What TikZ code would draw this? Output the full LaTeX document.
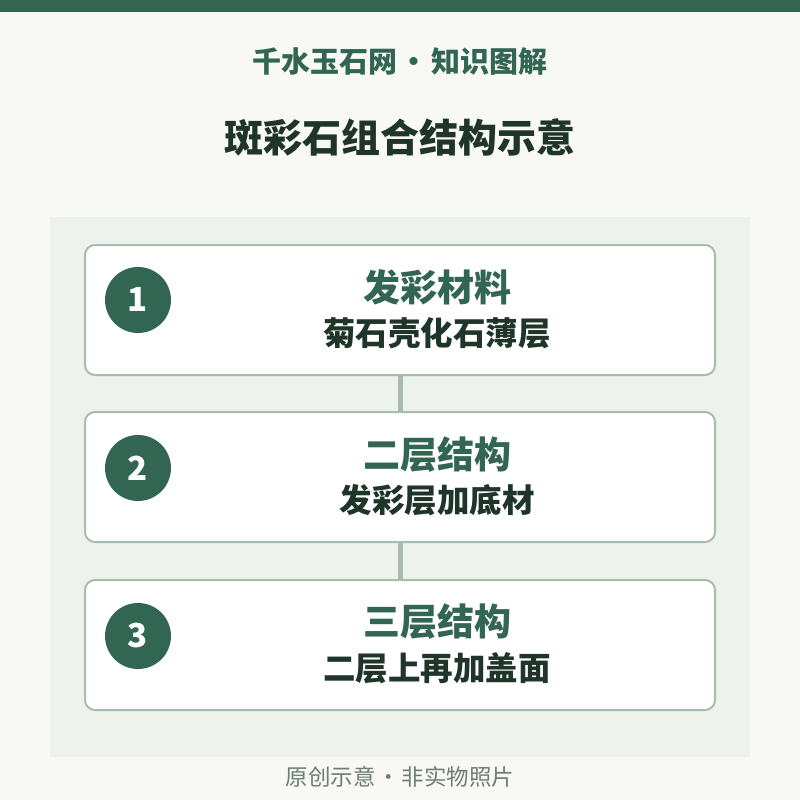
\documentclass[tikz,border=0pt]{standalone}
\usepackage{fontspec}
\setmainfont{Noto Sans CJK SC}
\definecolor{jadeDark}{HTML}{326652}
\definecolor{inkDark}{HTML}{1F3529}
\definecolor{pageBg}{HTML}{F8F8F5}
\definecolor{panelBg}{HTML}{EDF2EC}
\definecolor{edgeGray}{HTML}{A6BCAD}
\definecolor{noteGray}{HTML}{6E7D72}
\tikzset{
  layerBox/.style={rectangle, rounded corners=10pt, draw=edgeGray, line width=2pt, fill=white, minimum width=630pt, minimum height=130pt},
  stepDot/.style={circle, fill=jadeDark, minimum size=66pt, inner sep=0pt, text=white, font=\fontsize{33}{33}\selectfont\bfseries},
  headText/.style={text=jadeDark, font=\fontsize{37}{37}\selectfont\bfseries},
  subText/.style={text=inkDark, font=\fontsize{32.5}{32.5}\selectfont\bfseries},
  linkBar/.style={draw=edgeGray, line width=5pt}
}
\begin{document}
\begin{tikzpicture}[x=1pt,y=-1pt]
	\fill[pageBg] (0,0) rectangle (800,800);
	\useasboundingbox (0,0) rectangle (800,800);
	\fill[jadeDark] (0,0) rectangle (800,12);
	\node[text=jadeDark, font=\fontsize{29}{29}\selectfont\bfseries](siteTitle) at (400,62){千水玉石网\hspace{3pt}•\hspace{3pt}知识图解};
	\node[text=inkDark, font=\fontsize{39}{39}\selectfont\bfseries](mainTitle) at (400,137){斑彩石组合结构示意};
	\fill[panelBg] (50,217) rectangle (750,757);

	\node[layerBox](box1) at (400,310){};
	\node[layerBox](box2) at (400,477){};
	\node[layerBox](box3) at (400,645){};

	\draw[linkBar] (box1.south) -- (box2.north);
	\draw[linkBar] (box2.south) -- (box3.north);

	\node[stepDot](dot1) at (138,300){1};
	\node[stepDot](dot2) at (138,468){2};
	\node[stepDot](dot3) at (138,636){3};

	\node[headText](head1) at (437,287){发彩材料};
	\node[subText](sub1) at (437,333){菊石壳化石薄层};
	\node[headText](head2) at (437,455){二层结构};
	\node[subText](sub2) at (437,500){发彩层加底材};
	\node[headText](head3) at (437,622){三层结构};
	\node[subText](sub3) at (437,668){二层上再加盖面};

	\node[text=noteGray, font=\fontsize{22.5}{22.5}\selectfont](noteLine) at (400,777){原创示意\hspace{2pt}·\hspace{2pt}非实物照片};
\end{tikzpicture}
\end{document}
